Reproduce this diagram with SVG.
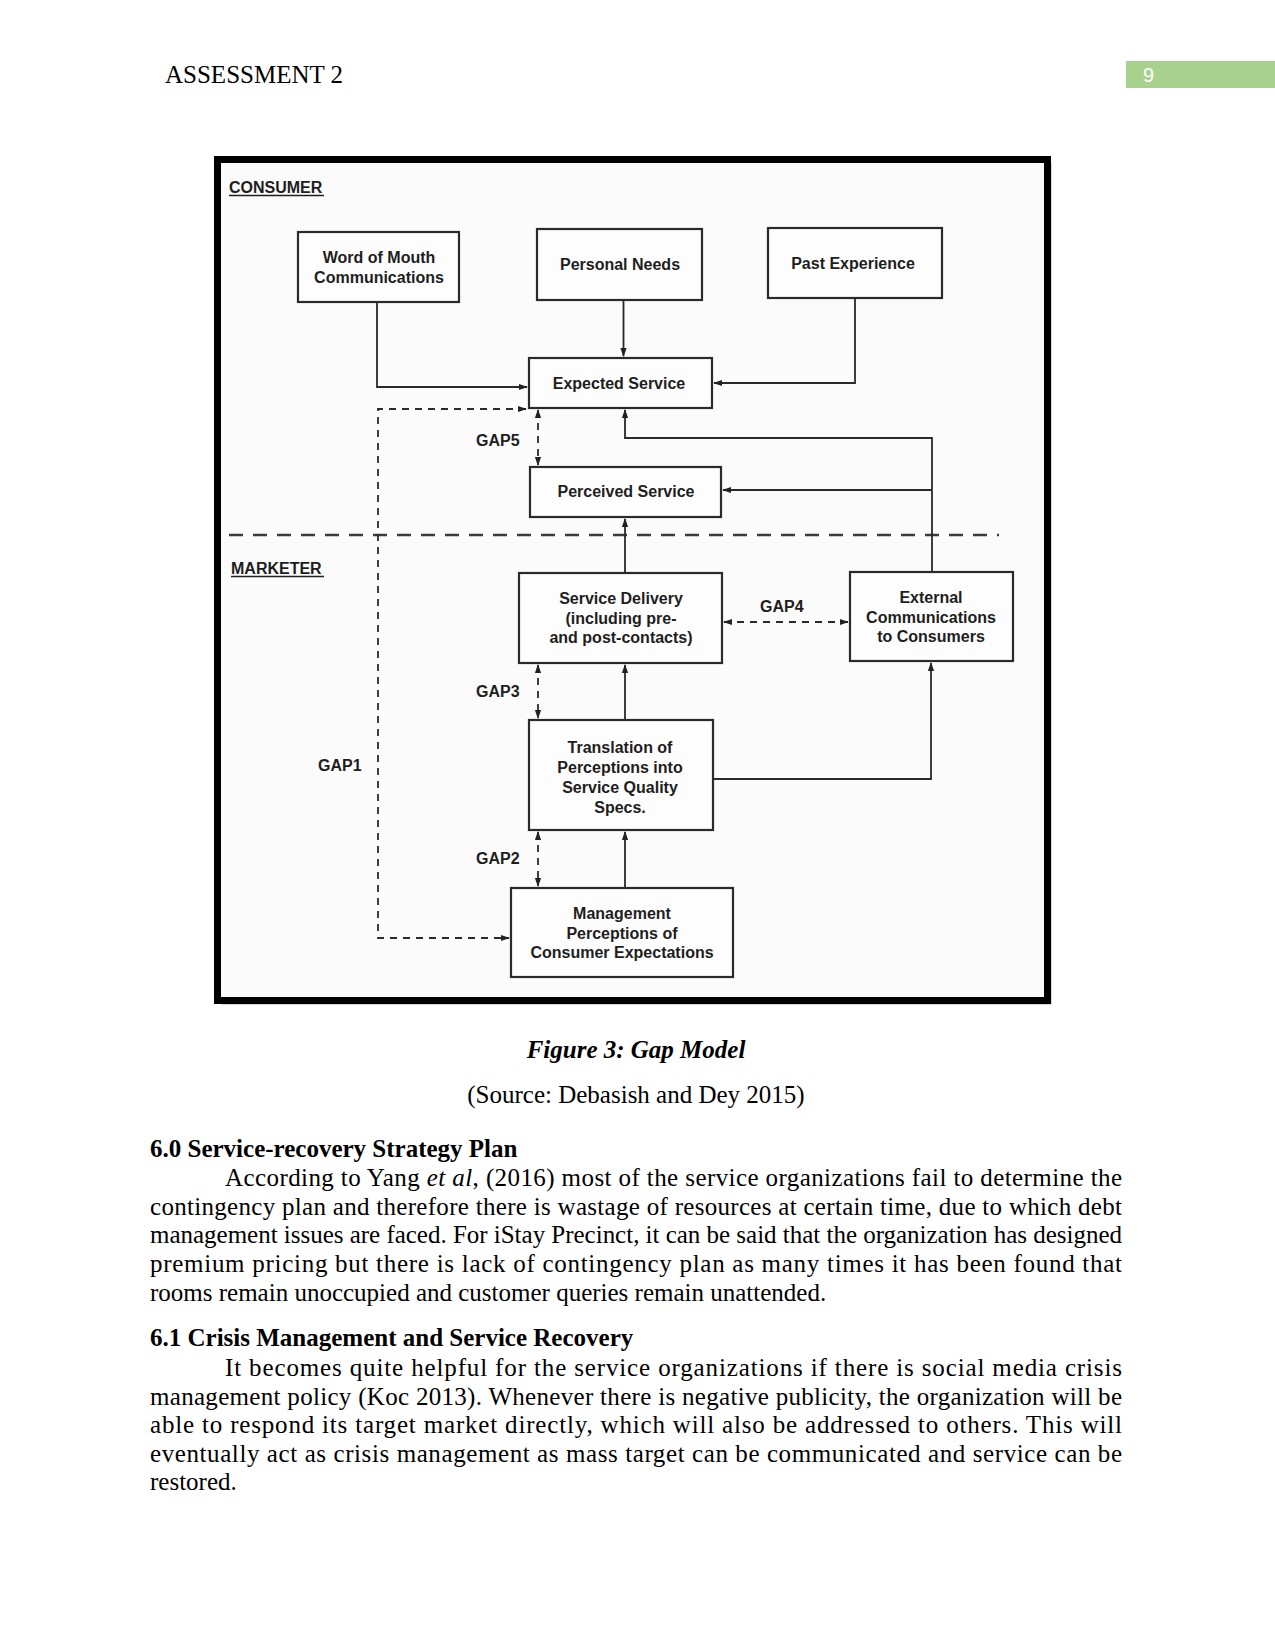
<svg xmlns="http://www.w3.org/2000/svg" width="1275" height="1650" viewBox="0 0 1275 1650">
<defs>
<marker id="ah" viewBox="0 0 10 10" refX="9" refY="5" markerWidth="9" markerHeight="9" markerUnits="userSpaceOnUse" orient="auto-start-reverse">
<path d="M0,1.5 L10,5 L0,8.5 z" fill="#222"/>
</marker>
<style>
.box{fill:#fdfdfd;stroke:#2a2a2a;stroke-width:2.2}
.lbl{font-family:"Liberation Sans",Arial,sans-serif;font-weight:bold;font-size:16px;fill:#1e1e1e;text-anchor:middle}
.gap{font-family:"Liberation Sans",Arial,sans-serif;font-weight:bold;font-size:16px;fill:#1e1e1e}
.ln{fill:none;stroke:#2a2a2a;stroke-width:1.8}
.dl{fill:none;stroke:#2a2a2a;stroke-width:1.8;stroke-dasharray:7 6}
.body{font-family:"Liberation Serif","Times New Roman",serif;font-size:25px;fill:#000}
.hd{font-family:"Liberation Serif","Times New Roman",serif;font-size:25px;font-weight:bold;fill:#000}
</style>
</defs>
<rect width="1275" height="1650" fill="#fff"/>

<!-- header -->
<text class="body" x="165" y="83">ASSESSMENT 2</text>
<rect x="1126" y="61" width="149" height="27" fill="#a9d18e"/>
<text x="1143" y="82" font-family="Liberation Sans,Arial,sans-serif" font-size="20" fill="#fff">9</text>

<!-- figure frame -->
<rect x="221" y="163" width="831" height="842" fill="#d8d8d8"/>
<rect x="217.5" y="159.5" width="830" height="841" fill="#fbfbfb" stroke="#000" stroke-width="7"/>

<text class="gap" x="229" y="193">CONSUMER</text>
<line x1="229" y1="195.5" x2="324" y2="195.5" stroke="#1e1e1e" stroke-width="1.6"/>
<text class="gap" x="231" y="574">MARKETER</text>
<line x1="231" y1="576.5" x2="324" y2="576.5" stroke="#1e1e1e" stroke-width="1.6"/>

<!-- connectors -->
<g id="connectors">
<line x1="229" y1="535" x2="999" y2="535" stroke="#3a3a3a" stroke-width="2.4" stroke-dasharray="14 10"/>
<path class="ln" d="M377,302 V387 H527" marker-end="url(#ah)"/>
<path class="ln" d="M623.5,300 V356" marker-end="url(#ah)"/>
<path class="ln" d="M855,298 V383 H714" marker-end="url(#ah)"/>
<path class="ln" d="M932,572 V438 H625 V410" marker-end="url(#ah)"/>
<path class="ln" d="M932,490 H723" marker-end="url(#ah)"/>
<path class="ln" d="M625,573 V519" marker-end="url(#ah)"/>
<path class="ln" d="M625,720 V665" marker-end="url(#ah)"/>
<path class="ln" d="M625,888 V832" marker-end="url(#ah)"/>
<path class="ln" d="M713,779 H931 V663" marker-end="url(#ah)"/>
<path class="dl" d="M526,409 H378 V938 H509" marker-start="url(#ah)" marker-end="url(#ah)"/>
<path class="dl" d="M538,410 V465" marker-start="url(#ah)" marker-end="url(#ah)"/>
<path class="dl" d="M724,622 H848" marker-start="url(#ah)" marker-end="url(#ah)"/>
<path class="dl" d="M538,665 V718" marker-start="url(#ah)" marker-end="url(#ah)"/>
<path class="dl" d="M538,832 V886" marker-start="url(#ah)" marker-end="url(#ah)"/>
<text class="gap" x="476" y="446">GAP5</text>
<text class="gap" x="760" y="612">GAP4</text>
<text class="gap" x="476" y="697">GAP3</text>
<text class="gap" x="318" y="771">GAP1</text>
<text class="gap" x="476" y="864">GAP2</text>
</g>

<!-- nodes -->
<g id="word-of-mouth">
<rect class="box" x="298" y="232" width="161" height="70"/>
<text class="lbl" x="379" y="263">Word of Mouth</text>
<text class="lbl" x="379" y="283">Communications</text>
</g>
<g id="personal-needs">
<rect class="box" x="537" y="229" width="165" height="71"/>
<text class="lbl" x="620" y="270">Personal Needs</text>
</g>
<g id="past-experience">
<rect class="box" x="768" y="228" width="174" height="70"/>
<text class="lbl" x="853" y="269">Past Experience</text>
</g>
<g id="expected-service">
<rect class="box" x="529" y="358" width="183" height="50"/>
<text class="lbl" x="619" y="389">Expected Service</text>
</g>
<g id="perceived-service">
<rect class="box" x="530" y="467" width="191" height="50"/>
<text class="lbl" x="626" y="497">Perceived Service</text>
</g>
<g id="service-delivery">
<rect class="box" x="519" y="573" width="203" height="90"/>
<text class="lbl" x="621" y="604">Service Delivery</text>
<text class="lbl" x="621" y="624">(including pre-</text>
<text class="lbl" x="621" y="643">and post-contacts)</text>
</g>
<g id="external-communications">
<rect class="box" x="850" y="572" width="163" height="89"/>
<text class="lbl" x="931" y="603">External</text>
<text class="lbl" x="931" y="623">Communications</text>
<text class="lbl" x="931" y="642">to Consumers</text>
</g>
<g id="translation">
<rect class="box" x="529" y="720" width="184" height="110"/>
<text class="lbl" x="620" y="753">Translation of</text>
<text class="lbl" x="620" y="773">Perceptions into</text>
<text class="lbl" x="620" y="793">Service Quality</text>
<text class="lbl" x="620" y="813">Specs.</text>
</g>
<g id="management">
<rect class="box" x="511" y="888" width="222" height="89"/>
<text class="lbl" x="622" y="919">Management</text>
<text class="lbl" x="622" y="939">Perceptions of</text>
<text class="lbl" x="622" y="958">Consumer Expectations</text>
</g>

<!-- caption -->
<text class="hd" x="636" y="1058" text-anchor="middle" font-style="italic">Figure 3: Gap Model</text>
<text class="body" x="636" y="1103" text-anchor="middle">(Source: Debasish and Dey 2015)</text>

<!-- body text -->
<text class="hd" x="150" y="1157">6.0 Service-recovery Strategy Plan</text>
<text class="body" x="225" y="1186" textLength="897" lengthAdjust="spacing">According to Yang <tspan font-style="italic">et al</tspan>, (2016) most of the service organizations fail to determine the</text>
<text class="body" x="150" y="1215" textLength="972" lengthAdjust="spacing">contingency plan and therefore there is wastage of resources at certain time, due to which debt</text>
<text class="body" x="150" y="1243" textLength="972" lengthAdjust="spacing">management issues are faced. For iStay Precinct, it can be said that the organization has designed</text>
<text class="body" x="150" y="1272" textLength="972" lengthAdjust="spacing">premium pricing but there is lack of contingency plan as many times it has been found that</text>
<text class="body" x="150" y="1301">rooms remain unoccupied and customer queries remain unattended.</text>

<text class="hd" x="150" y="1346">6.1 Crisis Management and Service Recovery</text>
<text class="body" x="225" y="1376" textLength="897" lengthAdjust="spacing">It becomes quite helpful for the service organizations if there is social media crisis</text>
<text class="body" x="150" y="1405" textLength="972" lengthAdjust="spacing">management policy (Koc 2013). Whenever there is negative publicity, the organization will be</text>
<text class="body" x="150" y="1433" textLength="972" lengthAdjust="spacing">able to respond its target market directly, which will also be addressed to others. This will</text>
<text class="body" x="150" y="1462" textLength="972" lengthAdjust="spacing">eventually act as crisis management as mass target can be communicated and service can be</text>
<text class="body" x="150" y="1490">restored.</text>
</svg>
